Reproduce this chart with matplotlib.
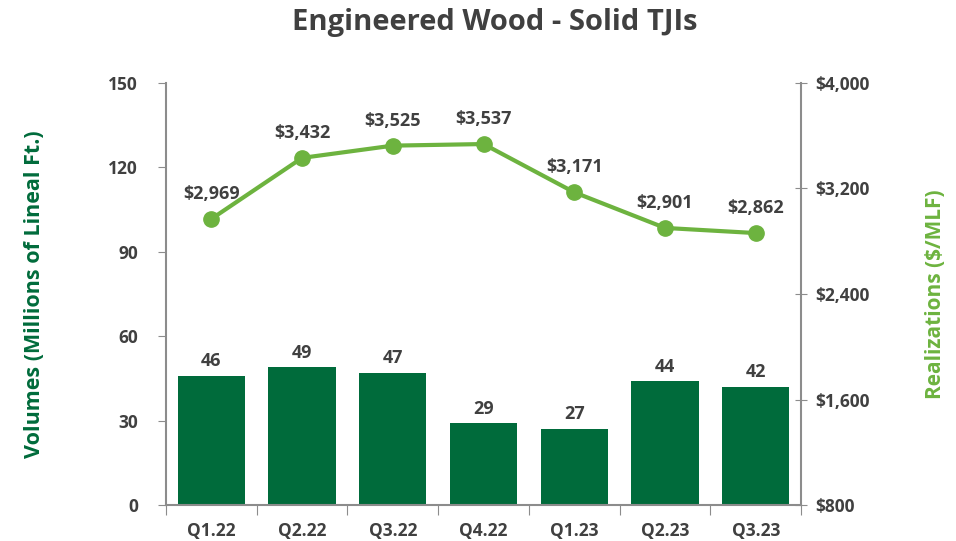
import matplotlib.pyplot as plt
import numpy as np
from matplotlib.ticker import FuncFormatter

quarters = ["Q1.22", "Q2.22", "Q3.22", "Q4.22", "Q1.23", "Q2.23", "Q3.23"]
volumes = [46, 49, 47, 29, 27, 44, 42]
realizations = [2969, 3432, 3525, 3537, 3171, 2901, 2862]

dark_green = "#006B3B"
light_green = "#6DB33F"
text_gray = "#404040"
axis_gray = "#8C8C8C"

plt.rcParams['font.family'] = ['Open Sans', 'DejaVu Sans']
plt.rcParams['font.weight'] = 'bold'

fig = plt.figure(figsize=(9.56, 5.41), dpi=100)
ax = fig.add_axes([0.1736, 0.0665, 0.838 - 0.1736, 0.8466 - 0.0665])
ax2 = ax.twinx()

x = np.arange(len(quarters))
ax.bar(x, volumes, width=0.74, color=dark_green, zorder=2)
for xi, v in zip(x, volumes):
    ax.text(xi, v + 2, f"{v}", ha='center', va='bottom', fontsize=13,
            color=text_gray, fontweight='bold')

ax.set_ylim(0, 150)
ax.set_yticks([0, 30, 60, 90, 120, 150])
ax.set_xlim(-0.5, len(quarters) - 0.5)
ax.set_xticks(np.arange(-0.5, len(quarters)), labels=[])
ax.set_xticks(x, labels=quarters, minor=True)
ax.tick_params(axis='x', which='major', length=7, color=axis_gray, direction='out')
ax.tick_params(axis='x', which='minor', length=0, pad=12, labelsize=12.5, labelcolor=text_gray)
ax.tick_params(axis='y', length=6, color=axis_gray, labelsize=12.5, labelcolor=text_gray, pad=14)
for lab in ax.get_xticklabels(minor=True) + ax.get_yticklabels():
    lab.set_fontweight('bold')

ax2.plot(x, realizations, color=light_green, lw=3, marker='o', ms=11, zorder=3)
for xi, r in zip(x, realizations):
    ax2.text(xi, r + 120, f"${r:,}", ha='center', va='bottom', fontsize=13,
             color=text_gray, fontweight='bold')
ax2.set_ylim(800, 4000)
ax2.set_yticks([800, 1600, 2400, 3200, 4000])
ax2.yaxis.set_major_formatter(FuncFormatter(lambda v, p: f"${v:,.0f}"))
ax2.tick_params(axis='y', length=8, direction='inout', color=axis_gray, labelsize=12.5,
                labelcolor=text_gray, pad=6)
for lab in ax2.get_yticklabels():
    lab.set_fontweight('bold')

for a in (ax, ax2):
    a.spines['top'].set_visible(False)
    for s in ('left', 'right', 'bottom'):
        a.spines[s].set_color(axis_gray)
        a.spines[s].set_linewidth(1.5)
ax.spines['right'].set_visible(False)
ax2.spines['left'].set_visible(False)
ax2.spines['bottom'].set_visible(False)

ax.set_ylabel("Volumes (Millions of Lineal Ft.)", fontsize=15.5, color=dark_green,
              fontweight='bold', labelpad=46)
ax2.set_ylabel("Realizations ($/MLF)", fontsize=15, color=light_green,
               fontweight='bold', labelpad=40)

fig.suptitle("Engineered Wood - Solid TJIs", x=0.518, y=0.985, fontsize=21,
             color=text_gray, fontweight='bold')

fig.savefig("out.png", dpi=100)
